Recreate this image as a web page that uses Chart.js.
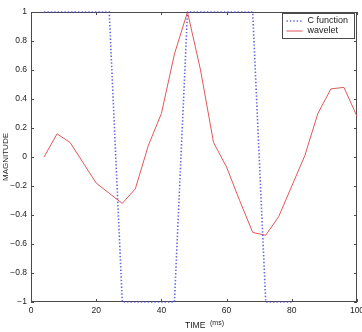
<!DOCTYPE html>
<html>
<head>
<meta charset="utf-8">
<script src="https://cdn.jsdelivr.net/npm/chart.js@4.4.1/dist/chart.umd.min.js"></script>
<style>
  html, body { margin: 0; padding: 0; background: #fff; }
  #wrap { width: 362px; height: 332px; }
</style>
</head>
<body>
<div id="wrap"><canvas id="chart"></canvas></div>
<script>
// ── data ──
const waveTimes  = [4, 8, 12, 16, 20, 24, 28, 32, 36, 40, 44, 48, 52, 56, 60, 64, 68, 72, 76, 80, 84, 88, 92, 96, 100];
const waveValues = [0, 0.16, 0.10, -0.04, -0.18, -0.25, -0.32, -0.22, 0.08, 0.30, 0.71, 1.0, 0.60, 0.10, -0.07, -0.30, -0.52, -0.54, -0.41, -0.20, 0.01, 0.30, 0.47, 0.48, 0.28];
const cTimes  = [4, 8, 12, 16, 20, 24, 28, 32, 36, 40, 44, 48, 52, 56, 60, 64, 68, 72, 76, 80];
const cValues = [1, 1, 1, 1, 1, 1, -1, -1, -1, -1, -1, 1, 1, 1, 1, 1, 1, -1, -1, -1];
const xTicks = [0, 20, 40, 60, 80, 100];
const yTicks = [-1, -0.8, -0.6, -0.4, -0.2, 0, 0.2, 0.4, 0.6, 0.8, 1];

const FONT = 'Liberation Sans, Arial, sans-serif';
const AXIS = '#4a4a4a';
const toXY = (xs, ys) => xs.map((t, i) => ({ x: t, y: ys[i] }));
const fmt = v => (v < 0 ? '\u2212' : '') + Math.abs(v);

// matlab-ish box, inward ticks, x title and legend inside the axes
const frame = {
  id: 'frame',
  beforeDatasetsDraw(chart) {
    const { ctx, chartArea: a, scales: { x, y } } = chart;
    ctx.save();
    ctx.strokeStyle = AXIS; ctx.lineWidth = 1;
    ctx.strokeRect(Math.round(a.left) + 0.5, Math.round(a.top) + 0.5, Math.round(a.width) - 1, Math.round(a.height) - 1);
    ctx.beginPath();
    xTicks.forEach(v => {
      const px = Math.round(x.getPixelForValue(v)) + 0.5;
      ctx.moveTo(px, a.bottom); ctx.lineTo(px, a.bottom - 3);
      ctx.moveTo(px, a.top); ctx.lineTo(px, a.top + 3);
    });
    yTicks.forEach(v => {
      const py = Math.round(y.getPixelForValue(v)) + 0.5;
      ctx.moveTo(a.left, py); ctx.lineTo(a.left + 3, py);
      ctx.moveTo(a.right, py); ctx.lineTo(a.right - 3, py);
    });
    ctx.stroke();
    ctx.restore();
  },
  afterDraw(chart) {
    const { ctx, chartArea: a } = chart;
    ctx.save();
    // x axis title
    const cx = a.left + a.width / 2;
    ctx.fillStyle = '#222'; ctx.textBaseline = 'alphabetic'; ctx.textAlign = 'left';
    ctx.font = '8.5px ' + FONT;
    ctx.fillText('TIME', cx - 9, 328);
    ctx.font = '7px ' + FONT;
    ctx.fillText('(ms)', cx + 16, 325);
    // legend
    const bx = Math.round(a.right) - 74.5, by = Math.round(a.top) + 1.5, bw = 72, bh = 25;
    ctx.fillStyle = '#fff'; ctx.fillRect(bx, by, bw, bh);
    ctx.strokeStyle = AXIS; ctx.lineWidth = 1; ctx.strokeRect(bx, by, bw, bh);
    ctx.font = '9px ' + FONT; ctx.textBaseline = 'middle'; ctx.fillStyle = '#222';
    chart.data.datasets.forEach((ds, i) => {
      const ly = by + 7.5 + i * 10;
      ctx.save();
      ctx.strokeStyle = ds.borderColor; ctx.lineWidth = ds.borderWidth;
      ctx.setLineDash(ds.borderDash || []);
      ctx.beginPath(); ctx.moveTo(bx + 4, ly); ctx.lineTo(bx + 20, ly); ctx.stroke();
      ctx.restore();
      ctx.fillText(ds.label, bx + 25, ly);
    });
    ctx.restore();
  }
};

new Chart(document.getElementById('chart').getContext('2d'), {
  type: 'line',
  data: {
    datasets: [
      { label: 'C function', data: toXY(cTimes, cValues), borderColor: 'rgba(70,70,225,0.85)', borderWidth: 1.6, borderDash: [1.4, 2], pointRadius: 0, tension: 0, clip: 4 },
      { label: 'wavelet', data: toXY(waveTimes, waveValues), borderColor: '#e05858', borderWidth: 1, pointRadius: 0, tension: 0, clip: 4 }
    ]
  },
  options: {
    responsive: true, maintainAspectRatio: false, animation: false, devicePixelRatio: 1,
    layout: { padding: { left: 0, right: 5, top: 12, bottom: 0 } },
    plugins: { legend: { display: false }, tooltip: { enabled: false } },
    scales: {
      x: {
        type: 'linear', min: 0, max: 100,
        grid: { display: false, drawTicks: false }, border: { display: false },
        afterBuildTicks: s => { s.ticks = xTicks.map(v => ({ value: v })); },
        afterFit: s => { s.height = 30; s.paddingLeft = 0; s.paddingRight = 0; },
        ticks: { font: { family: FONT, size: 8.5 }, color: '#222', padding: 4, maxRotation: 0, callback: v => fmt(v) }
      },
      y: {
        min: -1, max: 1,
        grid: { display: false, drawTicks: false }, border: { display: false },
        afterBuildTicks: s => { s.ticks = yTicks.map(v => ({ value: v })); },
        afterFit: s => { s.width = 31; s.paddingTop = 0; s.paddingBottom = 0; },
        ticks: { font: { family: FONT, size: 8.5 }, color: '#222', padding: 4, callback: v => fmt(v) },
        title: { display: true, text: 'MAGNITUDE', font: { family: FONT, size: 8 }, color: '#222', padding: { top: 1, bottom: 0 } }
      }
    }
  },
  plugins: [frame]
});
</script>
</body>
</html>
